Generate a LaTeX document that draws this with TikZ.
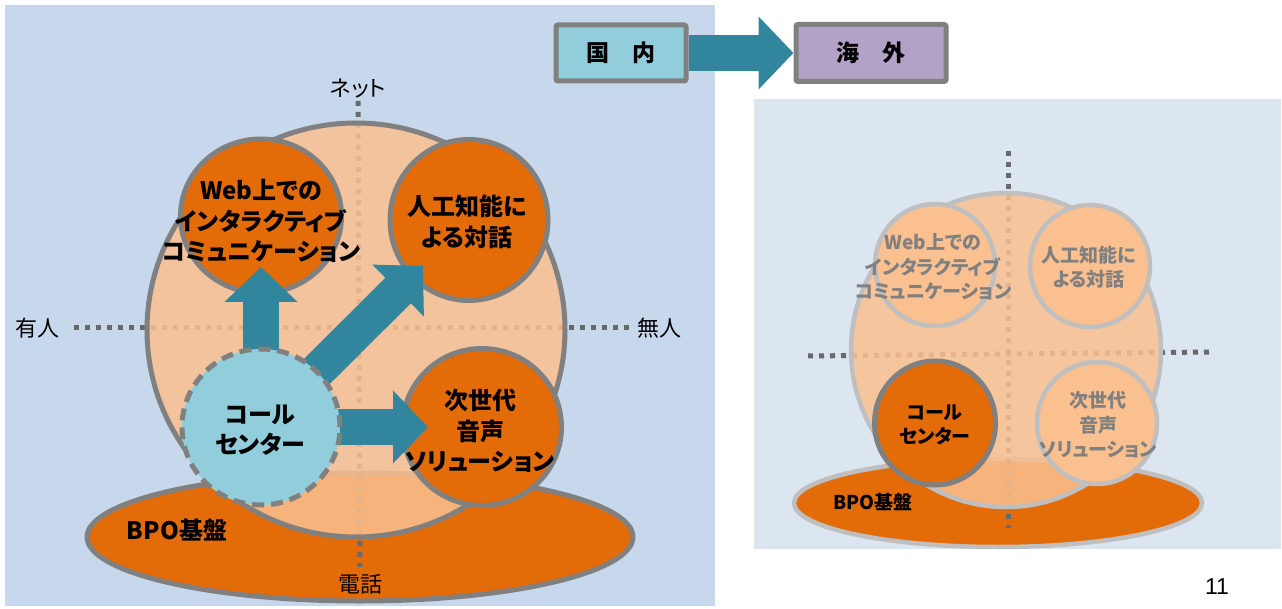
\documentclass[tikz,border=0pt]{standalone}
\usepackage{fontspec}
\newfontfamily\jp{Noto Sans CJK JP}[RawFeature=+palt]
\newfontfamily\arialf{Liberation Sans}
\usetikzlibrary{shapes.geometric,arrows.meta,calc}
\definecolor{bgL}{RGB}{200,216,236}
\definecolor{bgR}{RGB}{220,230,241}
\definecolor{peach}{RGB}{250,192,144}
\definecolor{orng}{RGB}{227,108,9}
\definecolor{tealA}{RGB}{49,133,156}
\definecolor{lblue}{RGB}{146,205,220}
\definecolor{lilac}{RGB}{179,162,199}
\definecolor{bord}{RGB}{128,128,128}
\definecolor{lbord}{RGB}{191,191,191}
\definecolor{dotc}{RGB}{105,105,105}
\pgfdeclarelayer{back}
\pgfdeclarelayer{targets}
\pgfdeclarelayer{arrows}
\pgfsetlayers{back,targets,arrows,main}
\begin{document}
\begin{tikzpicture}[x=1pt,y=-1pt,
  circ/.style={ellipse, draw=bord, line width=5pt, inner sep=0pt},
  circR/.style={ellipse, draw=lbord, line width=4.5pt, inner sep=0pt},
  bigarrow/.style={draw=tealA, line width=36pt, -{Triangle[width=71pt,length=35pt]}},
  dots/.style={draw=dotc, line width=5pt, dash pattern=on 5pt off 6pt},
  txt/.style={font=\jp\bfseries\fontsize{24}{30.5}\selectfont, align=center, inner sep=0pt},
  txtR/.style={font=\jp\bfseries\fontsize{19}{24.5}\selectfont, align=center, inner sep=0pt},
  lab/.style={font=\jp\fontsize{22}{26}\selectfont, inner sep=2pt},
  box/.style={draw=bord, line width=5pt, rounded corners=2pt, inner sep=0pt,
    font=\jp\bfseries\fontsize{23}{27}\selectfont}]
\useasboundingbox (0,0) rectangle (1282,609);

% ---------------- left panel ----------------
\begin{pgfonlayer}{back}
\fill[bgL] (5,5) rectangle (715,606);
\node[circ, fill=orng, minimum width=546pt, minimum height=128pt] (bpo) at (360,537) {};
\node[lab] (net) at (358,89) {ネット};
\node[lab] (denwa) at (360,584) {電話};
\node[lab] (yujin) at (38,328) {有人};
\node[lab] (mujin) at (659,328) {無人};
\draw[dots, shorten >=5pt] (net.south) -- (denwa.north);
\draw[dots, shorten <=12pt, shorten >=3pt] (yujin.east) -- (mujin.west);
\node[circ, fill=peach, fill opacity=0.85, minimum width=418pt, minimum height=414pt] (big) at (356,330) {};
\end{pgfonlayer}

\begin{pgfonlayer}{targets}
\node[circ, fill=orng, minimum width=161pt, minimum height=154pt] (web) at (261,216) {};
\node[circ, fill=orng, minimum width=158pt, minimum height=161pt] (ai) at (469,220) {};
\node[circ, fill=orng, minimum width=159pt, minimum height=157pt] (voice) at (482,427) {};
\end{pgfonlayer}

\node[circ, fill=lblue, dash pattern=on 12pt off 7pt, minimum width=158pt, minimum height=156pt] (cc) at (261,427) {};

\begin{pgfonlayer}{arrows}
\draw[bigarrow, shorten >=51pt] (cc.center) -- (web.center);
\draw[bigarrow, shorten >=65pt] (cc.center) -- (ai.center);
\draw[bigarrow, shorten >=54pt] (cc.center) -- (voice.center);
\end{pgfonlayer}

\node[txt] (webt) at (261,221) {Web上での\\インタラクティブ\\コミュニケーション};
\node[txt] (ait) at (467,222) {人工知能に\\よる対話};
\node[txt] (voicet) at (480,431) {次世代\\音声\\ソリューション};
\node[txt] (cct) at (260,430) {コール\\センター};
\node[txt] (bpot) at (177,530) {BPO基盤};

% ---------------- top boxes ----------------
\node[box, fill=lblue, minimum width=130pt, minimum height=56pt] (kokunai) at (621,53) {国　内};
\node[box, fill=lilac, minimum width=150pt, minimum height=57pt] (kaigai) at (871,53) {海　外};
\begin{pgfonlayer}{arrows}
\draw[bigarrow] (kokunai.east) -- (kaigai.west);
\end{pgfonlayer}

% ---------------- right panel ----------------
\begin{pgfonlayer}{back}
\fill[bgR] (754,99) rectangle (1281,549);
\node[circR, fill=orng, minimum width=408pt, minimum height=88pt] (bpo2) at (998,503) {};
\coordinate (v2t) at (1008,151);
\coordinate (v2b) at (1008,528);
\coordinate (h2l) at (808,356);
\coordinate (h2r) at (1211,352);
\draw[dots] (v2t) -- (v2b);
\draw[dots] (h2l) -- (h2r);
\node[circR, fill=peach, fill opacity=0.85, minimum width=310pt, minimum height=314pt] (big2) at (1006,350) {};
\end{pgfonlayer}

\node[circR, fill=peach, minimum width=120pt, minimum height=122pt] (web2) at (935,265) {};
\node[circR, fill=peach, minimum width=120pt, minimum height=122pt] (ai2) at (1090,266) {};
\node[circR, fill=peach, minimum width=120pt, minimum height=122pt] (voice2) at (1097,423) {};
\node[circ, fill=orng, minimum width=121pt, minimum height=124pt] (cc2) at (935,423) {};

\node[txtR, text=bord] (web2t) at (933,267) {Web上での\\インタラクティブ\\コミュニケーション};
\node[txtR, text=bord] (ai2t) at (1089,267) {人工知能に\\よる対話};
\node[txtR, text=bord] (voice2t) at (1098,425) {次世代\\音声\\ソリューション};
\node[txtR] (cc2t) at (935,425) {コール\\センター};
\node[txtR] (bpo2t) at (873,502) {BPO基盤};

\node[font=\arialf\fontsize{23}{26}\selectfont, inner sep=0pt] (page) at (1217,587) {11};
\end{tikzpicture}
\end{document}
